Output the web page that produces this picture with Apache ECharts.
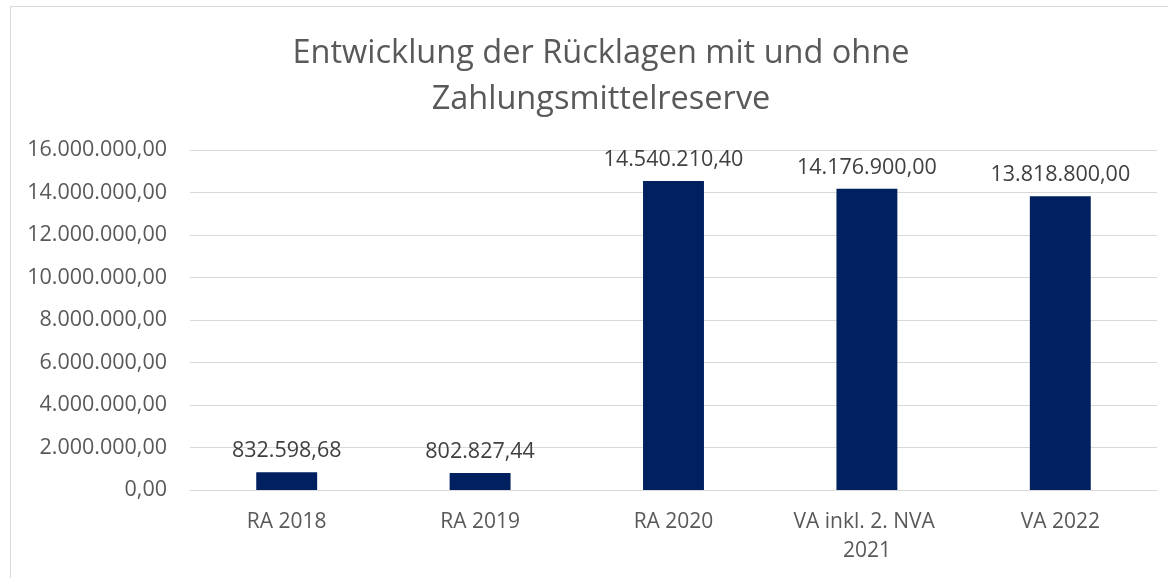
<!DOCTYPE html>
<html>
<head>
<meta charset="utf-8">
<script src="https://cdn.jsdelivr.net/npm/echarts@6/dist/echarts.min.js"></script>
<style>html,body{margin:0;padding:0;background:#fff;}#c{width:1168px;height:578px;}</style>
</head>
<body>
<div id="c"></div>
<script>
const title = 'Entwicklung der Rücklagen mit und ohne\nZahlungsmittelreserve';
const categories = ['RA 2018', 'RA 2019', 'RA 2020', 'VA inkl. 2. NVA 2021', 'VA 2022'];
const values = [832598.68, 802827.44, 14540210.40, 14176900.00, 13818800.00];
const yMin = 0, yMax = 16000000, yStep = 2000000;

function deFmt(v) {
  const neg = v < 0; v = Math.abs(v);
  let s = v.toFixed(2);
  let [i, d] = s.split('.');
  i = i.replace(/\B(?=(\d{3})+(?!\d))/g, '.');
  return (neg ? '-' : '') + i + ',' + d;
}

const font = '"Open Sans", sans-serif';
const chart = echarts.init(document.getElementById('c'), null, {renderer: 'canvas'});
chart.setOption({
  animation: false,
  graphic: [{
    type: 'rect', silent: true,
    shape: {x: 10.5, y: 6.5, width: 1200, height: 620},
    style: {fill: 'none', stroke: '#d9d9d9', lineWidth: 1}
  }],
  title: {
    text: title, left: 596, top: 26, textAlign: 'center',
    textStyle: {fontFamily: font, fontSize: 32.5, fontWeight: 'normal', color: '#595959', lineHeight: 46}
  },
  grid: {left: 190, right: 11, top: 150, bottom: 88, containLabel: false},
  xAxis: {
    type: 'category', data: categories,
    axisLine: {show: true, lineStyle: {color: '#d9d9d9', width: 1}},
    axisTick: {show: false},
    axisLabel: {fontFamily: font, fontSize: 21, color: '#595959', margin: 18, interval: 0,
      width: 175, overflow: 'break', lineHeight: 29}
  },
  yAxis: {
    type: 'value', min: yMin, max: yMax, interval: yStep,
    axisLine: {show: false}, axisTick: {show: false},
    splitLine: {lineStyle: {color: '#d9d9d9', width: 1}},
    axisLabel: {fontFamily: font, fontSize: 21.5, color: '#595959', margin: 23, formatter: v => deFmt(v)}
  },
  series: [{
    type: 'bar', data: values, barWidth: '31.5%',
    itemStyle: {color: '#002060'},
    label: {show: true, position: 'top', distance: 10, fontFamily: font, fontSize: 21.5, color: '#404040',
      formatter: p => deFmt(p.value)}
  }]
});
</script>
</body>
</html>
